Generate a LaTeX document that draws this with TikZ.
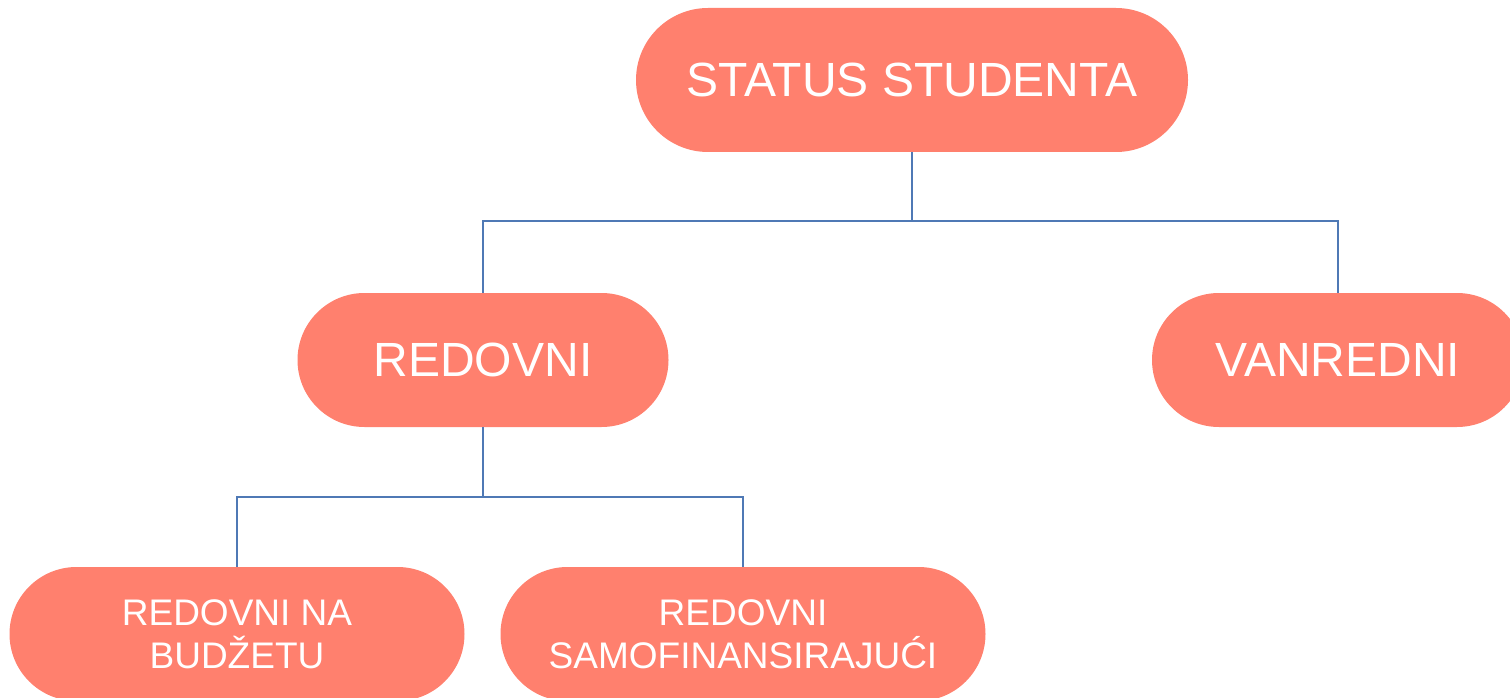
\documentclass[tikz,border=0pt]{standalone}
\usepackage{fontspec}
\setmainfont{Liberation Sans}
\definecolor{boxfill}{HTML}{FF806E}
\definecolor{linkblue}{HTML}{4F79B5}
\begin{document}
\begin{tikzpicture}[x=1pt,y=-1pt,
  pill/.style={draw=none,fill=boxfill,rectangle,rounded corners=#1,inner sep=0pt,text=white,align=center},
  link/.style={draw=linkblue,line width=1.6pt}]
\useasboundingbox (0,0) rectangle (1510,698);
\clip (0,0) rectangle (1510,698);
% nodes
\node[pill=72pt,minimum width=552pt,minimum height=144pt,font=\fontsize{48}{56}\selectfont] (status) at (912,80) {STATUS STUDENTA};
\node[pill=67pt,minimum width=371pt,minimum height=134pt,font=\fontsize{48}{56}\selectfont] (redovni) at (483,360) {REDOVNI};
\node[pill=67pt,minimum width=372pt,minimum height=134pt,font=\fontsize{48}{56}\selectfont] (vanredni) at (1338,360) {VANREDNI};
\node[pill=67pt,minimum width=455pt,minimum height=134pt,font=\fontsize{37}{43}\selectfont] (budzet) at (237,634) {REDOVNI NA\\BUDŽETU};
\node[pill=67pt,minimum width=485pt,minimum height=134pt,font=\fontsize{37}{43}\selectfont] (samofin) at (743,634) {REDOVNI\\SAMOFINANSIRAJUĆI};
% junctions
\coordinate (j1) at (912,221);
\coordinate (j2) at (483,497);
% connectors
\draw[link] (status.south) -- (j1);
\draw[link] (redovni.north) |- (j1) -| (vanredni.north);
\draw[link] (redovni.south) -- (j2);
\draw[link] (budzet.north) |- (j2) -| (samofin.north);
\end{tikzpicture}
\end{document}
